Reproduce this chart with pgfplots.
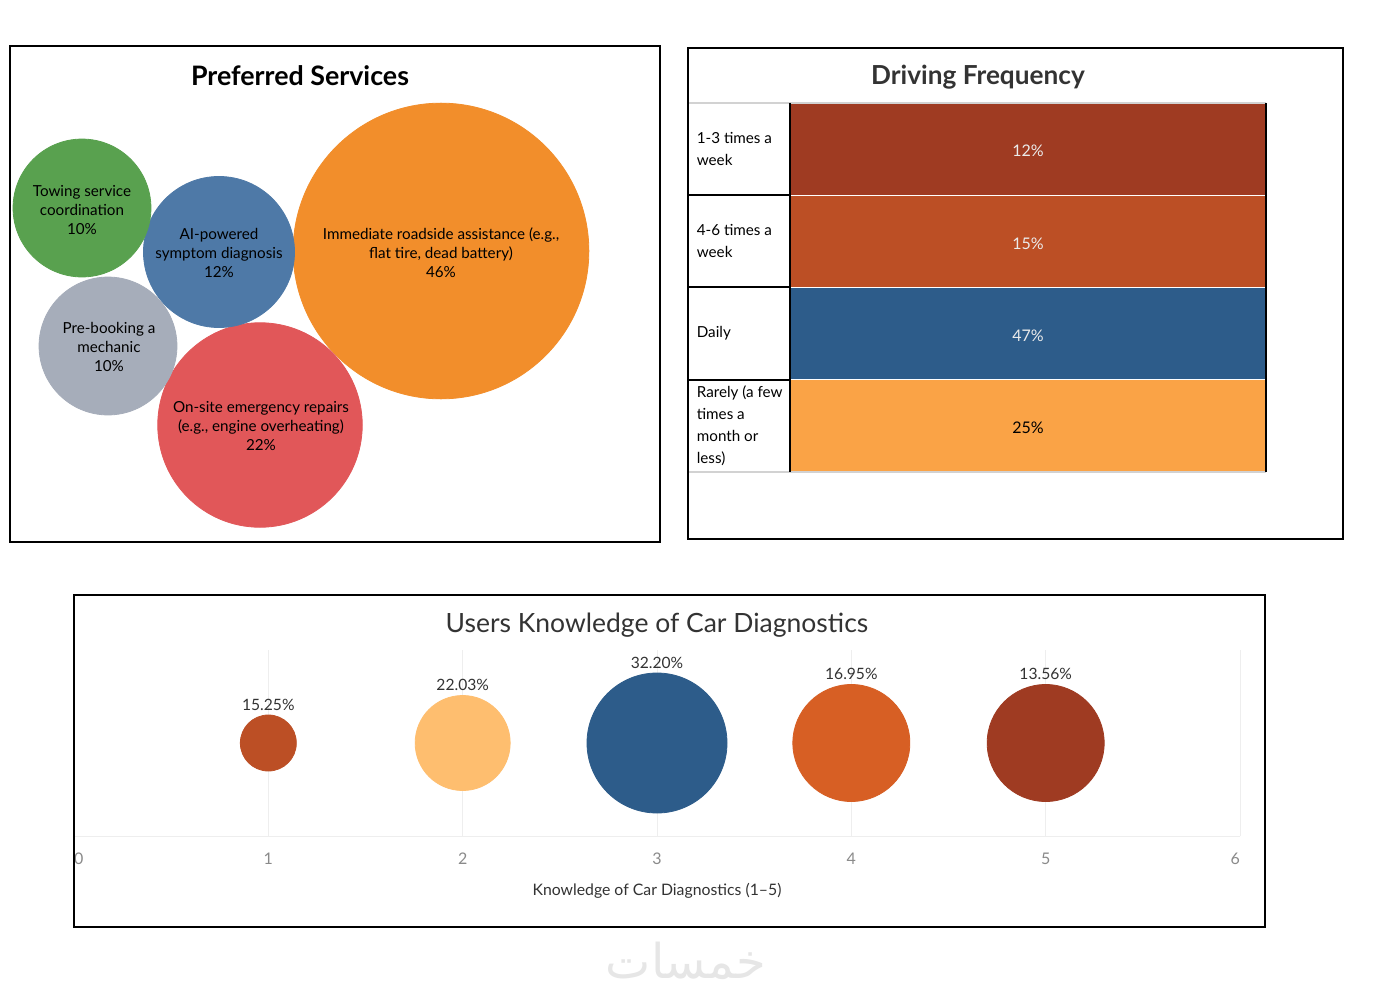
\documentclass[border=0pt]{standalone}
\usepackage{pgfplots}
\pgfplotsset{compat=1.18}
\usepackage{pgfplotstable}
\usepackage{fontspec}
\setmainfont{Lato}
\newfontfamily\arabicfont[Script=Arabic]{DejaVu Sans}
\TeXXeTstate=1

\definecolor{tgreen}{HTML}{59A14F}
\definecolor{tblue}{HTML}{4E79A7}
\definecolor{torange}{HTML}{F28E2B}
\definecolor{tgrey}{HTML}{A6ADBA}
\definecolor{tred}{HTML}{E15759}
\definecolor{rust}{HTML}{9F3B22}
\definecolor{burnt}{HTML}{BC4F25}
\definecolor{navy}{HTML}{2D5C8A}
\definecolor{peach}{HTML}{FAA346}
\definecolor{sand}{HTML}{FEBE6F}
\definecolor{pumpkin}{HTML}{D75F24}
\definecolor{titlegrey}{HTML}{333333}
\definecolor{tickgrey}{HTML}{8A8A8A}
\definecolor{gridc}{HTML}{EEEEEE}
\definecolor{wmgrey}{HTML}{E6E6E6}

% preferred services: bubble position (px) and share (%)
\pgfplotstableread{
x y v c
441 251 46 a
260 425 22 b
219 252 12 c
82 208 10 d
108 346 10 e
}\services

% knowledge level, bubble radius (px), share (%)
\pgfplotstableread{
k r p c
1 28 15.25 a
2 47.5 22.03 b
3 70 32.20 c
4 58.5 16.95 d
5 58.5 13.56 e
}\knowledge

\begin{document}
\begin{tikzpicture}
\fill[white] (0,0) rectangle (687pt,-499.5pt);
\useasboundingbox (0,0) rectangle (687pt,-499.5pt);

% ---- Preferred Services
\begin{axis}[
    at={(5pt,-23pt)}, anchor=north west,
    scale only axis, width=325pt, height=248pt,
    xmin=10, xmax=660, ymin=46, ymax=542, y dir=reverse,
    axis line style={black, line width=1pt},
    ticks=none, clip=false
  ]
  \addplot[scatter, only marks, mark=*,
    scatter src=explicit symbolic,
    scatter/classes={
      a={mark=*, fill=torange, draw=torange},
      b={mark=*, fill=tred, draw=tred},
      c={mark=*, fill=tblue, draw=tblue},
      d={mark=*, fill=tgreen, draw=tgreen},
      e={mark=*, fill=tgrey, draw=tgrey}},
    visualization depends on={10.9*sqrt(\thisrow{v}) \as \rad},
    scatter/@pre marker code/.append style={/tikz/mark size=\rad pt}
  ] table[x=x, y=y, meta=c] {\services};
  \addplot[only marks, mark=none, point meta=explicit symbolic,
    nodes near coords,
    every node near coord/.append style={anchor=center, align=center,
      text=black, font=\fontsize{7.6}{9.5}\selectfont}
  ] coordinates {
    (441,253) [{Immediate roadside assistance (e.g.,\\flat tire, dead battery)\\46\%}]
    (261,426) [{On-site emergency repairs\\(e.g., engine overheating)\\22\%}]
    (219,253) [{AI-powered\\symptom diagnosis\\12\%}]
    (82,210) [{Towing service\\coordination\\10\%}]
    (109,347) [{Pre-booking a\\mechanic\\10\%}]
  };
\end{axis}

% ---- Driving Frequency
\begin{axis}[
    at={(395pt,-51.5pt)}, anchor=north west,
    scale only axis, width=238pt, height=184.5pt,
    xbar, xmin=0, xmax=1, ymin=-0.5, ymax=3.5, y dir=reverse,
    bar width=45.5pt,
    axis line style={draw=none}, tick style={draw=none},
    xtick=\empty, ytick={0,1,2,3},
    yticklabels={{1-3 times a\\week}, {4-6 times a\\week}, Daily,
      {Rarely (a few\\times a\\month or\\less)}},
    yticklabel style={anchor=west, align=left, inner sep=0pt, xshift=-42.5pt,
      font=\fontsize{7.6}{11}\selectfont, text=black},
    point meta=explicit symbolic,
    nodes near coords={\pgfplotspointmeta\%},
    every node near coord/.append style={anchor=center, xshift=-119pt, yshift=-1pt,
      font=\fontsize{8}{9}\selectfont},
    clip=false
  ]
  \addplot[fill=rust, draw=none, bar shift=0pt,
    every node near coord/.append style={text=white!92!black}] coordinates {(1,0) [12]};
  \addplot[fill=burnt, draw=none, bar shift=0pt,
    every node near coord/.append style={text=white!92!black}] coordinates {(1,1) [15]};
  \addplot[fill=navy, draw=none, bar shift=0pt,
    every node near coord/.append style={text=white!92!black}] coordinates {(1,2) [47]};
  \addplot[fill=peach, draw=none, bar shift=0pt,
    every node near coord/.append style={text=black}] coordinates {(1,3) [25]};
\end{axis}

% ---- Users Knowledge of Car Diagnostics
\begin{axis}[
    at={(37pt,-418pt)}, anchor=south west,
    scale only axis, width=583pt, height=93pt,
    xmin=0, xmax=6, ymin=0, ymax=1,
    axis x line=bottom, axis y line=none,
    axis line style={draw=gridc, -},
    xtick={0,1,2,3,4,5,6}, ytick=\empty,
    xticklabels={\hphantom{0}0,1,2,3,4,5,6\hphantom{0}},
    xmajorgrids, grid style={gridc},
    tick style={draw=none},
    /pgf/number format/assume math mode=true,
    xticklabel style={text=tickgrey, font=\fontsize{8}{9}\selectfont, yshift=-3pt},
    xlabel={Knowledge of Car Diagnostics (1--5)},
    xlabel style={font=\fontsize{7.9}{9}\selectfont, text=titlegrey, yshift=-2pt},
    clip=false
  ]
  \addplot[scatter, only marks, mark=*,
    scatter src=explicit symbolic,
    scatter/classes={
      a={mark=*, fill=burnt, draw=burnt},
      b={mark=*, fill=sand, draw=sand},
      c={mark=*, fill=navy, draw=navy},
      d={mark=*, fill=pumpkin, draw=pumpkin},
      e={mark=*, fill=rust, draw=rust}},
    visualization depends on={0.5*\thisrow{r} \as \rad},
    scatter/@pre marker code/.append style={/tikz/mark size=\rad pt}
  ] table[x=k, y expr=0.5, meta=c] {\knowledge};
  \addplot[only marks, mark=none,
    visualization depends on={0.5*\thisrow{r} \as \rad},
    visualization depends on={\thisrow{p} \as \pct},
    nodes near coords={\pgfmathprintnumber[fixed, fixed zerofill, precision=2]{\pct}\%},
    every node near coord/.append style={anchor=south, yshift=\rad pt, inner sep=2pt,
      text=titlegrey, font=\fontsize{7.8}{9}\selectfont,
      /pgf/number format/assume math mode=true}
  ] table[x=k, y expr=0.5] {\knowledge};
\end{axis}

% ---- frames, titles, table rules (pixel coordinates)
\begin{scope}[x=0.5pt, y=-0.5pt]
  \node[font=\bfseries\fontsize{13.4}{15}\selectfont] at (300,76) {Preferred Services};

  \draw[black, line width=0.6pt] (688,48) rectangle (1343,539);
  \node[font=\bfseries\fontsize{13.1}{15}\selectfont, text=titlegrey] at (978,77) {Driving Frequency};
  \draw[gray!35, line width=0.6pt] (689,103) -- (1266,103);
  \draw[black, line width=1.1pt] (689,195) -- (790,195);
  \draw[black, line width=0.6pt] (689,287) -- (790,287);
  \draw[black, line width=1.1pt] (689,380) -- (790,380);
  \draw[gray!35, line width=0.9pt] (689,472) -- (1266,472);
  \draw[black, line width=0.6pt] (790,103) -- (790,472);
  \draw[black, line width=0.6pt] (1266,103) -- (1266,472);

  \draw[black, line width=0.6pt] (74,927) -- (74,595) -- (1265,595) -- (1265,927);
  \draw[black, line width=1.1pt] (73,927) -- (1266,927);
  \node[font=\fontsize{13.25}{15}\selectfont, text=titlegrey] at (657,625) {Users Knowledge of Car Diagnostics};

  \node[text=wmgrey, font=\arabicfont\fontsize{24}{26}\selectfont] at (686,961) {\beginR خمسات\endR};
\end{scope}
\end{tikzpicture}
\end{document}
